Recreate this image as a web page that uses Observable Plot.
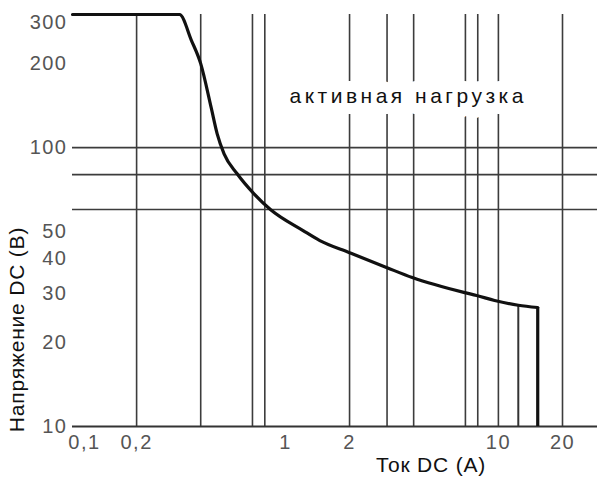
<!DOCTYPE html>
<html>
<head>
<meta charset="utf-8">
<script src="https://cdn.jsdelivr.net/npm/d3@7"></script>
<script src="https://cdn.jsdelivr.net/npm/@observablehq/plot@0.6"></script>
<style>
  html, body { margin: 0; padding: 0; background: #fff; }
  #chart svg { display: block; }
</style>
</head>
<body>
<div id="chart"></div>
<script>
// Load curve (active load): current (A) vs DC voltage (V)
const currentA = [0.1, 0.318, 0.362, 0.40, 0.448, 0.478, 0.515, 0.592, 0.71, 0.85, 1.21, 1.45, 2.0, 3.0, 3.94, 6.95, 7.9, 9.6, 12.4, 15.3];
const voltageV = [300, 300, 242, 200, 139, 112, 95, 80.7, 68.4, 60, 50.4, 46.4, 42.0, 37.1, 34.2, 30.2, 29.5, 28.3, 27.2, 26.7];

// End-of-curve verticals
const endCurrent = [15.3];
const endVoltage = [26.7];
const thinCurrent = [12.4];
const thinVoltage = [27.2];

// Grid and ticks
const xGrid = [0.2, 0.4, 0.7, 0.8, 2, 3, 4, 7, 8, 10, 20];
const yGrid = [60, 80, 100];
const xFirstTick = [0.1];
const xTicks = [0.2, 0.5, 1, 2, 5, 10, 20];
const yTicks = [10, 20, 30, 40, 50, 100, 200];
const yTopTick = [300];

const xTitle = "Ток DC (А)";
const yTitle = "Напряжение DC (В)";
const note = "активная нагрузка";

const curve = currentA.map((x, i) => ({x, y: voltageV[i]}));

const tickFont = "'Liberation Sans Narrow', 'Liberation Sans', Arial, sans-serif";
const titleFont = "'Liberation Sans', Arial, sans-serif";
const gridColor = "#3c3c3c";
const fmt = d => String(d).replace(".", ",");

const tickOpts = {
  tickSize: 0, label: null, tickFormat: fmt,
  fontSize: 20, fontFamily: tickFont, fill: "#555"
};

const plot = Plot.plot({
  width: 597,
  height: 479,
  marginLeft: 72,
  marginRight: 0,
  marginTop: 14,
  marginBottom: 53,
  style: {fontFamily: titleFont, background: "#fff", overflow: "visible"},
  x: {type: "log", domain: [0.1, 29.2], axis: null},
  y: {type: "log", domain: [10, 300], axis: null},
  marks: [
    Plot.ruleX(xGrid, {stroke: gridColor, strokeWidth: 1.6}),
    Plot.ruleY(yGrid, {stroke: gridColor, strokeWidth: 1.6}),
    Plot.ruleY([10], {stroke: "#333", strokeWidth: 2}),
    Plot.text([note], {
      x: 3.77, y: 153, text: d => d,
      fontSize: 21, fontFamily: titleFont, fill: "#111",
      stroke: "white", strokeWidth: 22, paintOrder: "stroke"
    }),
    Plot.ruleX(thinCurrent.map((x, i) => ({x, y: thinVoltage[i]})), {x: "x", y1: 10, y2: "y", stroke: "#333", strokeWidth: 2}),
    Plot.line(curve, {x: "x", y: "y", curve: "monotone-x", stroke: "#111", strokeWidth: 3.2}),
    Plot.ruleX(endCurrent.map((x, i) => ({x, y: endVoltage[i]})), {x: "x", y1: 10, y2: "y", stroke: "#111", strokeWidth: 3.2}),
    Plot.axisX(xFirstTick, {...tickOpts, tickPadding: 8, dx: 12}),
    Plot.axisX(xTicks, {...tickOpts, tickPadding: 8}),
    Plot.axisY(yTicks, {...tickOpts, tickPadding: 5}),
    Plot.axisY(yTopTick, {...tickOpts, tickPadding: 5, dy: 8}),
    Plot.text([xTitle], {
      frameAnchor: "bottom", text: d => d, dx: 96, dy: 45,
      fontSize: 21, fontFamily: titleFont, fill: "#111"
    }),
    Plot.text([yTitle], {
      frameAnchor: "left", textAnchor: "middle", text: d => d, rotate: -90, dx: -55, dy: 109,
      fontSize: 21, fontFamily: titleFont, fill: "#111"
    })
  ]
});

const tickLabels = new Set([...xFirstTick, ...xTicks, ...yTicks, ...yTopTick].map(fmt));
plot.querySelectorAll("text").forEach(t => {
  const s = t.textContent;
  let ls = null;
  if (s === note) ls = "3.5px";
  else if (s === xTitle || s === yTitle) ls = "0.8px";
  else if (tickLabels.has(s)) ls = "1.5px";
  if (ls) { t.setAttribute("letter-spacing", ls); t.style.letterSpacing = ls; }
});
document.getElementById("chart").appendChild(plot);
</script>
</body>
</html>
